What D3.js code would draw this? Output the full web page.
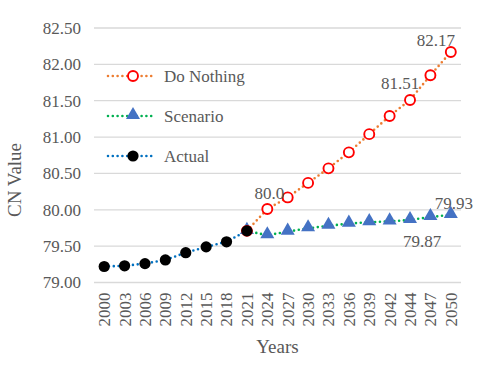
<!DOCTYPE html>
<html>
<head>
<meta charset="utf-8">
<script src="https://cdn.jsdelivr.net/npm/d3@7"></script>
<style>
  body { margin: 0; background: #fff; }
  text { font-family: "Liberation Serif", "Times New Roman", serif; fill: #595959; }
</style>
</head>
<body>
<svg id="chart"></svg>
<script>
const years = ["2000","2003","2006","2009","2012","2015","2018","2021","2024","2027","2030","2033","2036","2039","2042","2044","2047","2050"];
// null = no value for that year
const actual = [79.22, 79.23, 79.26, 79.31, 79.41, 79.49, 79.56, 79.71, null, null, null, null, null, null, null, null, null, null];
const scenario = [null, null, null, null, null, null, null, 79.71, 79.65, 79.70, 79.745, 79.78, 79.81, 79.83, 79.84, 79.86, 79.90, 79.93];
const doNothing = [null, null, null, null, null, null, null, 79.71, 80.01, 80.17, 80.37, 80.57, 80.79, 81.04, 81.29, 81.51, 81.85, 82.17];
const yTicks = [79.0, 79.5, 80.0, 80.5, 81.0, 81.5, 82.0, 82.5];
// point labels: [series, year, text]
const pointLabels = [
  ["doNothing", "2050", "82.17"],
  ["doNothing", "2044", "81.51"],
  ["doNothing", "2024", "80.0"],
  ["scenario", "2050", "79.93"],
  ["scenario", "2044", "79.87"]
];

const width = 480, height = 373;
const margin = { left: 94, right: 19, top: 28, bottom: 90.5 };
const serif = '"Liberation Serif", "Times New Roman", serif';

const svg = d3.select("#chart").attr("width", width).attr("height", height);

const x = d3.scaleBand()
  .domain(years)
  .range([margin.left, width - margin.right]);
const y = d3.scaleLinear().domain([79, 82.5]).range([height - margin.bottom, margin.top]);

const cx = yr => x(yr) + x.bandwidth() / 2;

// gridlines
svg.append("g")
  .selectAll("line")
  .data(yTicks)
  .join("line")
  .attr("x1", margin.left)
  .attr("x2", width - margin.right)
  .attr("y1", d => y(d))
  .attr("y2", d => y(d))
  .attr("stroke", "#d9d9d9")
  .attr("stroke-width", 1.3);

// y axis labels
const yAxis = svg.append("g")
  .attr("transform", `translate(${margin.left},0)`)
  .call(d3.axisLeft(y).tickValues(yTicks).tickFormat(d3.format(".2f")).tickSize(0).tickPadding(13));
yAxis.attr("font-family", serif).attr("font-size", 17);
yAxis.select(".domain").remove();
yAxis.selectAll("text").attr("fill", "#595959");

// x axis labels, rotated
const xAxis = svg.append("g")
  .attr("transform", `translate(0,${height - margin.bottom})`)
  .call(d3.axisBottom(x).tickSize(0).tickPadding(0));
xAxis.attr("font-family", serif).attr("font-size", 17);
xAxis.select(".domain").remove();
xAxis.selectAll("text")
  .attr("fill", "#595959")
  .attr("transform", "rotate(-90)")
  .attr("x", -10)
  .attr("y", 0)
  .attr("dy", "0.35em")
  .style("text-anchor", "end");

// axis titles
svg.append("text")
  .attr("x", (margin.left + width - margin.right) / 2)
  .attr("y", 353)
  .style("text-anchor", "middle")
  .style("font-size", "19px")
  .text("Years");

svg.append("text")
  .attr("transform", "translate(21,180) rotate(-90)")
  .style("text-anchor", "middle")
  .style("font-size", "19px")
  .text("CN Value");

const line = d3.line()
  .defined(d => d.v != null)
  .x(d => cx(d.yr))
  .y(d => y(d.v));

const toPts = arr => years.map((yr, i) => ({ yr, v: arr[i] }));

function dotted(g, color) {
  return g.attr("fill", "none")
    .attr("stroke", color)
    .attr("stroke-width", 2.6)
    .attr("stroke-linecap", "round")
    .attr("stroke-dasharray", "0,4.8");
}

const triangle = d3.symbol().type(d3.symbolTriangle).size(85);

// Scenario
svg.append("path").datum(toPts(scenario)).attr("d", line).call(dotted, "#00b050");
// Do Nothing
svg.append("path").datum(toPts(doNothing)).attr("d", line).call(dotted, "#ed7d31");

svg.append("g").selectAll("path")
  .data(toPts(scenario).filter(d => d.v != null))
  .join("path")
  .attr("d", triangle)
  .attr("transform", d => `translate(${cx(d.yr)},${y(d.v) - 1})`)
  .attr("fill", "#4472c4");

svg.append("g").selectAll("circle")
  .data(toPts(doNothing).filter(d => d.v != null))
  .join("circle")
  .attr("cx", d => cx(d.yr))
  .attr("cy", d => y(d.v))
  .attr("r", 5)
  .attr("fill", "#fff")
  .attr("stroke", "#ff0000")
  .attr("stroke-width", 1.9);

// Actual
svg.append("path").datum(toPts(actual)).attr("d", line).call(dotted, "#0070c0");
svg.append("g").selectAll("circle")
  .data(toPts(actual).filter(d => d.v != null))
  .join("circle")
  .attr("cx", d => cx(d.yr))
  .attr("cy", d => y(d.v))
  .attr("r", 5.6)
  .attr("fill", "#000");

// data labels
const seriesMap = { doNothing, scenario };
const labelOffsets = {
  "doNothing2050": [-15, -12],
  "doNothing2044": [-10, -17],
  "doNothing2024": [2, -16],
  "scenario2050": [3, -12],
  "scenario2044": [12, 21]
};
svg.append("g").selectAll("text")
  .data(pointLabels)
  .join("text")
  .attr("x", d => cx(d[1]) + labelOffsets[d[0] + d[1]][0])
  .attr("y", d => y(seriesMap[d[0]][years.indexOf(d[1])]) + labelOffsets[d[0] + d[1]][1])
  .attr("dy", "0.35em")
  .style("text-anchor", "middle")
  .style("font-size", "17px")
  .text(d => d[2]);

// legend
const legendItems = [
  { name: "Do Nothing", color: "#ed7d31", marker: "open" },
  { name: "Scenario", color: "#00b050", marker: "tri" },
  { name: "Actual", color: "#0070c0", marker: "dot" }
];
const lg = svg.append("g").selectAll("g")
  .data(legendItems)
  .join("g")
  .attr("transform", (d, i) => `translate(108,${76 + i * 40})`);
lg.append("line")
  .attr("x1", 0).attr("x2", 48).attr("y1", 0).attr("y2", 0)
  .each(function(d) { dotted(d3.select(this), d.color); });
lg.each(function(d) {
  const g = d3.select(this);
  if (d.marker === "open") {
    g.append("circle").attr("cx", 25).attr("r", 5).attr("fill", "#fff").attr("stroke", "#ff0000").attr("stroke-width", 1.9);
  } else if (d.marker === "tri") {
    g.append("path").attr("d", triangle).attr("transform", "translate(25,-1)").attr("fill", "#4472c4");
  } else {
    g.append("circle").attr("cx", 25).attr("r", 5.6).attr("fill", "#000");
  }
});
lg.append("text")
  .attr("x", 56)
  .attr("dy", "0.35em")
  .style("font-size", "17px")
  .text(d => d.name);
</script>
</body>
</html>
